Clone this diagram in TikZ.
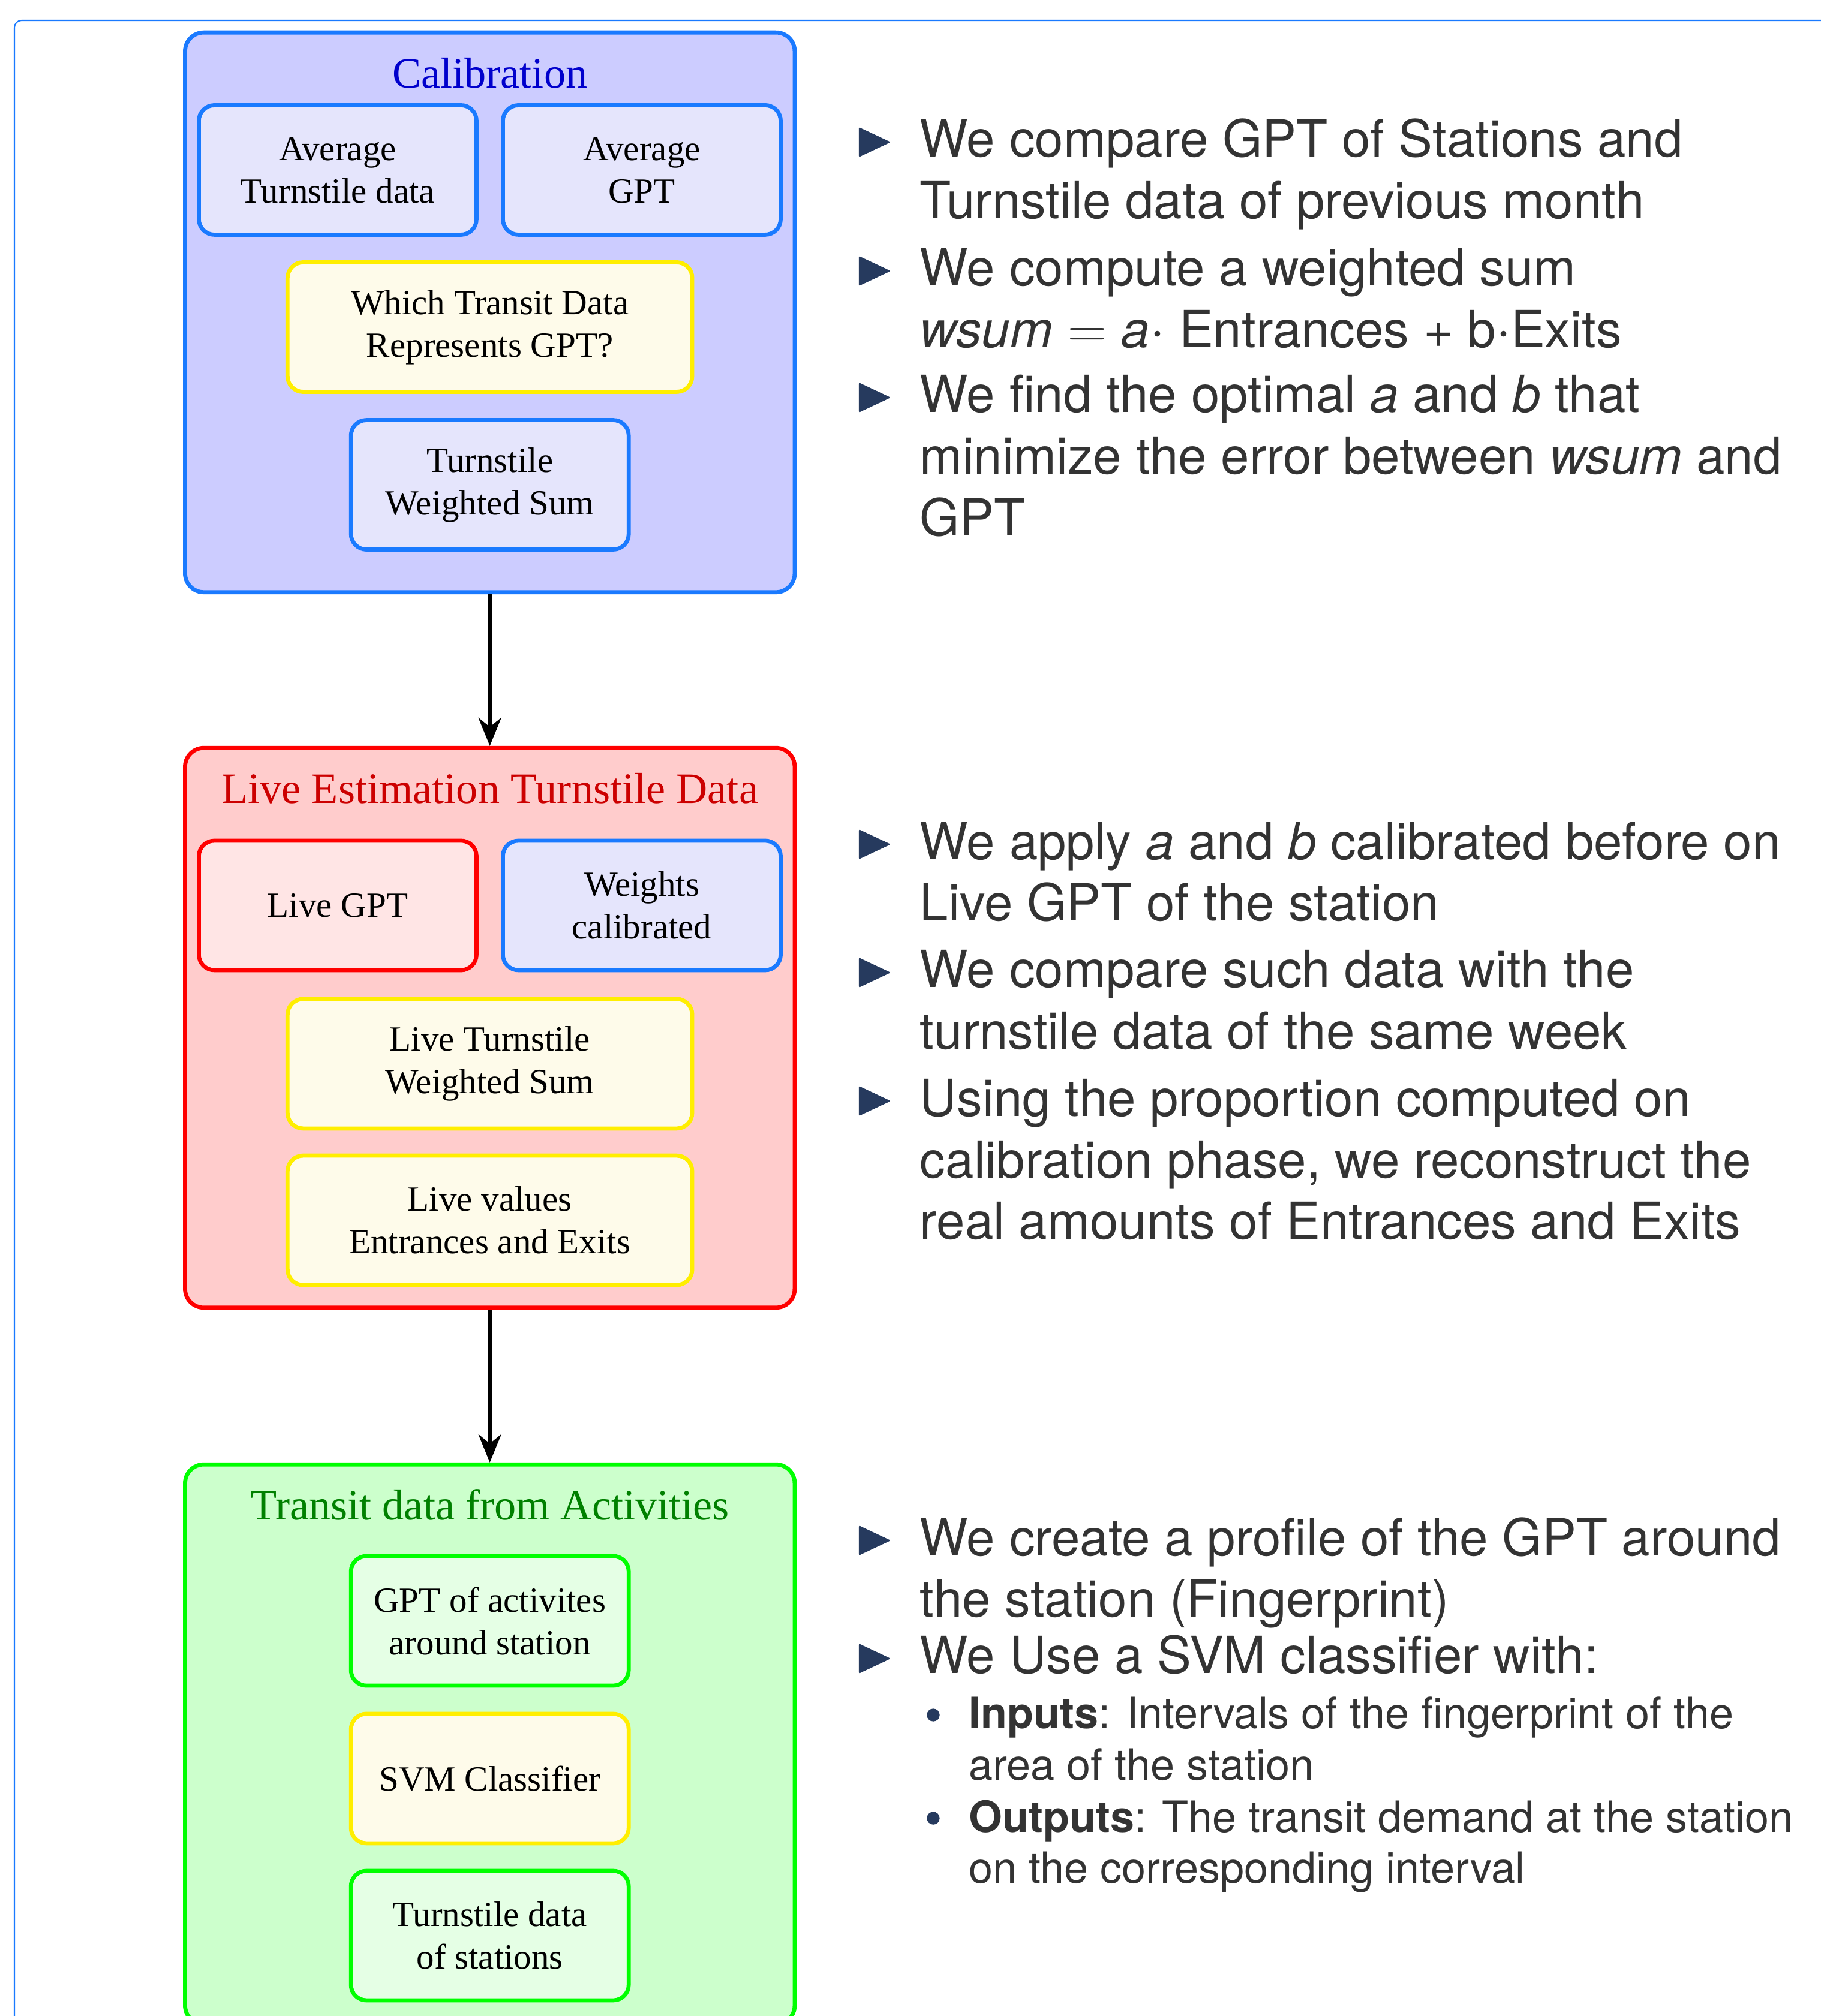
\documentclass[tikz,border=0pt]{standalone}
\usepackage{fontspec}
\setmainfont{Liberation Serif}
\newfontfamily\slidefont{TeX Gyre Heros}
\usetikzlibrary{arrows.meta,positioning}

\definecolor{calibline}{HTML}{1A7AFF}
\definecolor{calibfill}{HTML}{CCCCFF}
\definecolor{calibinner}{HTML}{E5E5FC}
\definecolor{calibtext}{HTML}{0000CC}
\definecolor{liveline}{HTML}{FF0000}
\definecolor{livefill}{HTML}{FFCCCC}
\definecolor{liveinner}{HTML}{FFE5E5}
\definecolor{livetext}{HTML}{CC0000}
\definecolor{actline}{HTML}{00FF00}
\definecolor{actfill}{HTML}{CCFFCC}
\definecolor{actinner}{HTML}{E5FFE5}
\definecolor{acttext}{HTML}{008000}
\definecolor{askline}{HTML}{FFEE00}
\definecolor{askfill}{HTML}{FEFBEA}
\definecolor{slidetext}{HTML}{333333}
\definecolor{itemcolor}{HTML}{263A5E}

\tikzset{
  phase/.style={draw, line width=1.3pt, rounded corners=6pt,
    minimum width=6.87cm, minimum height=6.31cm},
  phasetitle/.style={anchor=base, font=\fontsize{13.9}{16}\selectfont},
  block/.style={draw, line width=1.3pt, rounded corners=5pt, align=center,
    minimum width=3.13cm, minimum height=1.46cm,
    font=\fontsize{11.35}{13.65}\selectfont},
  wideblock/.style={block, minimum width=4.56cm},
  calibbox/.style={block, draw=calibline, fill=calibinner},
  livebox/.style={block, draw=liveline, fill=liveinner},
  actbox/.style={block, draw=actline, fill=actinner},
  askbox/.style={block, draw=askline, fill=askfill},
  point/.style={anchor=base west, inner sep=0pt, text=slidetext,
    font=\slidefont\fontsize{16.4}{19.8}\selectfont},
  subpoint/.style={point, font=\slidefont\fontsize{13.85}{16.5}\selectfont},
  flow/.style={-{Stealth[length=9pt,width=7.3pt]}, line width=1.2pt},
}

% lines of one item, first baseline on the node base
\newcommand{\itemlines}[1]{\begin{tabular}[t]{@{}l@{}}#1\end{tabular}}
% beamer-like item marks
\newcommand{\itemtri}[1]{\fill[itemcolor, rounded corners=0.4pt]
  ([xshift=-0.683cm]#1.base west) -- ++(0,0.338) -- ++(0.359,-0.169) -- cycle;}
\newcommand{\itemdot}[1]{\fill[itemcolor]
  ([xshift=-0.392cm,yshift=0.155cm]#1.base west) circle (0.072);}

\begin{document}
\begin{tikzpicture}
\useasboundingbox (0,0) rectangle (20.514,-22.724);
\def\xm{5.52}
\def\xl{3.805}
\def\xr{7.232}
\def\xt{10.361}
\def\xs{10.909}

% slide frame
\draw[calibline, line width=0.4pt, rounded corners=2.3pt] (0.162,-24) |- (24,-0.230);

% phases
\node[phase, draw=calibline, fill=calibfill] (calib) at (\xm,-3.521) {};
\node[phase, draw=liveline, fill=livefill] (live) at (\xm,-11.585) {};
\node[phase, draw=actline, fill=actfill] (act) at (\xm,-19.662) {};

\node[phasetitle, text=calibtext] (calibtitle) at ([yshift=-0.649cm]calib.north) {Calibration};
\node[phasetitle, text=livetext] (livetitle) at ([yshift=-0.649cm]live.north) {Live Estimation Turnstile Data};
\node[phasetitle, text=acttext] (acttitle) at ([yshift=-0.649cm]act.north) {Transit data from Activities};

% calibration
\node[calibbox] (avgturn) at (\xl,-1.916) {Average\\Turnstile data};
\node[calibbox] (avggpt) at (\xr,-1.916) {Average\\GPT};
\node[askbox, wideblock] (which) at (\xm,-3.687) {Which Transit Data\\Represents GPT?};
\node[calibbox] (tws) at (\xm,-5.465) {Turnstile\\Weighted Sum};

% live estimation
\node[livebox] (livegpt) at (\xl,-10.206) {Live GPT};
\node[calibbox] (weights) at (\xr,-10.206) {Weights\\calibrated};
\node[askbox, wideblock] (livetws) at (\xm,-11.990) {Live Turnstile\\Weighted Sum};
\node[askbox, wideblock] (livevals) at (\xm,-13.755) {Live values\\Entrances and Exits};

% activities
\node[actbox] (gptact) at (\xm,-18.270) {GPT of activites\\around station};
\node[askbox] (svm) at (\xm,-20.047) {SVM Classifier};
\node[actbox] (tds) at (\xm,-21.818) {Turnstile data\\of stations};

\draw[flow] (calib) -- (live);
\draw[flow] (live) -- (act);

% explanations
\node[point] (b1) at (\xt,-1.771) {\itemlines{We compare GPT of Stations and\\Turnstile data of previous month}};
\node[point] (b2) at (\xt,-3.224) {\itemlines{We compute a weighted sum\\\textit{wsum}${}={}$\textit{a}$\cdot$ Entrances + b$\cdot$Exits}};
\node[point] (b3) at (\xt,-4.650) {\itemlines{We find the optimal \textit{a} and \textit{b} that\\minimize the error between \textit{wsum} and\\GPT}};
\node[point] (c1) at (\xt,-9.686) {\itemlines{We apply \textit{a} and \textit{b} calibrated before on\\Live GPT of the station}};
\node[point] (c2) at (\xt,-11.132) {\itemlines{We compare such data with the\\turnstile data of the same week}};
\node[point] (c3) at (\xt,-12.579) {\itemlines{Using the proportion computed on\\calibration phase, we reconstruct the\\real amounts of Entrances and Exits}};
\node[point] (d1) at (\xt,-17.533) {\itemlines{We create a profile of the GPT around\\the station (Fingerprint)}};
\node[point] (d2) at (\xt,-18.864) {We Use a SVM classifier with:};
\node[subpoint] (s1) at (\xs,-19.486) {\itemlines{\textbf{Inputs}: Intervals of the fingerprint of the\\area of the station}};
\node[subpoint] (s2) at (\xs,-20.649) {\itemlines{\textbf{Outputs}: The transit demand at the station\\on the corresponding interval}};

\foreach \n in {b1,b2,b3,c1,c2,c3,d1,d2} {\itemtri{\n}}
\foreach \n in {s1,s2} {\itemdot{\n}}
\end{tikzpicture}
\end{document}
